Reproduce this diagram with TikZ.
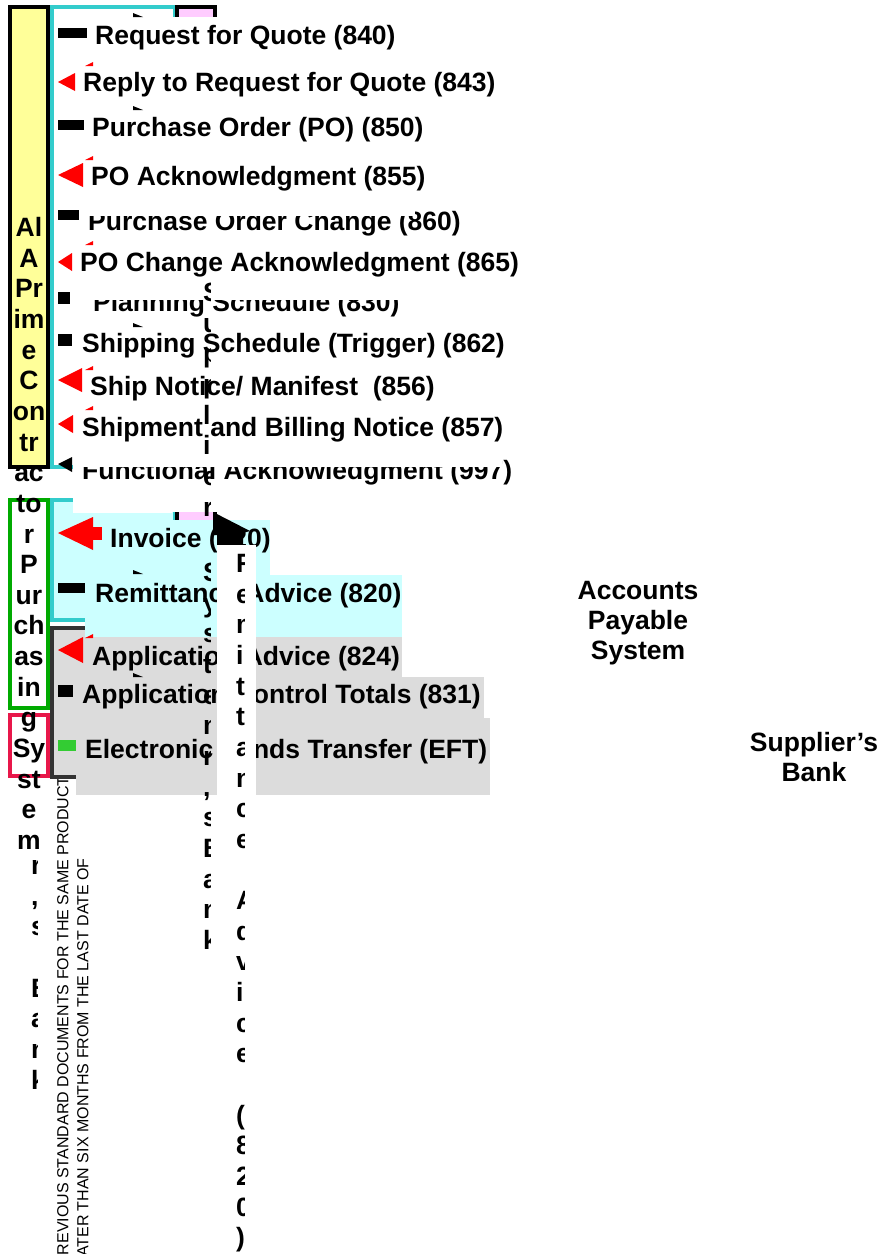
\documentclass[tikz,border=0pt]{standalone}
\usepackage{fontspec}
\setmainfont{Liberation Sans}
\usepackage{xcolor}
\usetikzlibrary{positioning}

\definecolor{boxyellow}{HTML}{FFFF99}
\definecolor{boxcyan}{HTML}{33CCCC}
\definecolor{lightcyan}{HTML}{CCFFFF}
\definecolor{boxpink}{HTML}{FFCCFF}
\definecolor{boxgreen}{HTML}{00AA00}
\definecolor{boxred}{HTML}{E8174A}
\definecolor{boxgray}{HTML}{DCDCDC}
\definecolor{darkframe}{HTML}{333333}
\definecolor{eftgreen}{HTML}{33CC33}

\tikzset{
  bigfont/.style={font=\bfseries\fontsize{26.5}{30}\selectfont},
  rowtext/.style={bigfont, anchor=base west, inner sep=0pt},
  colchar/.style={bigfont, anchor=base west, inner sep=0pt},
  midchar/.style={bigfont, anchor=base, inner sep=0pt},
  sidebox/.style={line width=4pt, fill=white},
  mask/.style={fill=white, draw=none}
}

\begin{document}
\begin{tikzpicture}[x=1pt,y=-1pt]
    \useasboundingbox (0,0) rectangle (880,1254);

    % Note along the bottom
    \node[rotate=90, anchor=north west, inner sep=0pt, align=left,
          font=\fontsize{16}{20}\selectfont] (note) at (57,1266)
        {PREVIOUS STANDARD DOCUMENTS FOR THE SAME PRODUCT\\LATER THAN SIX MONTHS FROM THE LAST DATE OF};

    % Side boxes
    \draw[sidebox, fill=boxyellow] (10,7) rectangle (48,467);
    \draw[sidebox, draw=boxgreen] (10,500) rectangle (48,708);
    \draw[sidebox, draw=boxred] (10,715) rectangle (48,776);

    % Frames behind the lists
    \draw[boxcyan, line width=4pt] (52,7) rectangle (175,467);
    \draw[darkframe, fill=boxgray, line width=4pt] (52,628) rectangle (160,777);
    \draw[boxcyan, fill=lightcyan, line width=4pt] (52,500) rectangle (175,620);
    \draw[fill=boxpink, line width=4pt] (176.5,7) rectangle (214.5,530);

    % White cover over the upper list
    \fill[mask] (55,17) rectangle (530,465);
    \fill[mask] (73,465) rectangle (172,513);
    \fill[mask] (62,469) rectangle (73,498);
    \fill[mask] (172,465) rectangle (530,512);

    % Row backgrounds
    \fill[lightcyan] (54,520) rectangle (270,575);
    \fill[lightcyan] (85,575) rectangle (402,637);
    \fill[boxgray] (83,637) rectangle (402,677);
    \fill[boxgray] (73,677) rectangle (484,718);
    \fill[boxgray] (76,718) rectangle (490,795);

    % Documents
    \node[rowtext] (rfq)   at (95,44)  {Request for Quote (840)};
    \node[rowtext] (rrfq)  at (83,91)  {Reply to Request for Quote (843)};
    \node[rowtext] (po)    at (92,136) {Purchase Order (PO) (850)};
    \node[rowtext] (poack) at (91,185) {PO Acknowledgment (855)};
    \node[rowtext] (poch)  at (88,230) {Purchase Order Change (860)};
    \node[rowtext] (pochack) at (80,271) {PO Change Acknowledgment (865)};
    \node[rowtext] (plan)  at (93,311) {Planning Schedule (830)};
    \node[rowtext] (ship)  at (82,352) {Shipping Schedule (Trigger) (862)};
    \node[rowtext] (asn)   at (90,395) {Ship Notice/ Manifest\ \ (856)};
    \node[rowtext] (bill)  at (82,436) {Shipment and Billing Notice (857)};
    \node[rowtext] (func)  at (82,479) {Functional Acknowledgment (997)};
    \node[rowtext] (inv)   at (110,547) {Invoice (820)};
    \node[rowtext] (remit) at (95,602) {Remittance Advice (820)};
    \node[rowtext] (appadv) at (92,665) {Application Advice (824)};
    \node[rowtext] (appctl) at (82,703) {Application Control Totals (831)};
    \node[rowtext] (eft)   at (85,758) {Electronic Funds Transfer (EFT)};

    % Half hidden rows
    \fill[mask] (85,195) rectangle (415,216);
    \fill[mask] (85,280) rectangle (420,300);
    \fill[mask] (80,445) rectangle (502,467);

    % Direction marks
    \fill (58,28) rectangle (87,38);
    \fill[red] (58,82) -- (75,73) -- (75,91) -- cycle;
    \fill (58,120) rectangle (84,130);
    \fill[red] (58,175) -- (83,163) -- (83,187) -- cycle;
    \fill (58,210) rectangle (79,220);
    \fill[red] (58,262) -- (72,253) -- (72,271) -- cycle;
    \fill (58,292) rectangle (70,304);
    \fill (58,334) rectangle (72,346);
    \fill[red] (58,380) -- (82,368) -- (82,392) -- cycle;
    \fill[red] (58,424) -- (73,415) -- (73,433) -- cycle;
    \fill (58,464) -- (72,457) -- (72,472) -- cycle;
    \fill[red] (58,533) -- (93,517) -- (93,550) -- cycle;
    \fill[red] (93,527) rectangle (102,540);
    \fill (58,583) rectangle (85,593);
    \fill[red] (58,650) -- (83,637) -- (83,663) -- cycle;
    \fill (58,685) rectangle (73,697);
    \fill[eftgreen] (58,740) rectangle (76,751);

    % Arrow tips peeking out
    \foreach \yy in {15,108,325,572,675}
        \fill (133,\yy-2) -- (143,\yy+2) -- (133,\yy+2) -- cycle;
    \foreach \yy in {63,157,242,367,407,635}
        \fill[red] (85,\yy+3) -- (93,\yy-1) -- (93,\yy+3) -- cycle;

    % Big arrow at the invoice
    \fill (213,512) -- (250,531) -- (243,533) -- (243,545) -- (217,545)
        -- (217,535) -- (213,535) -- cycle;

    % Narrow column
    \fill[white] (217,545) rectangle (256,1254);
    \begin{scope}
        \clip (225,540) rectangle (244,1254);
        \foreach \c [count=\k from 0] in {R,e,m,i,t,t,a,n,c,e,{},A,d,v,i,c,e,{},{(},8,2,0,{)}}
            \node[colchar] (remcol\k) at (236,{572.5+30.65*\k}) {\c};
    \end{scope}

    % Supplier column
    \begin{scope}
        \clip (195,270) rectangle (210,960);
        \foreach \c [count=\k from 0] in {S,u,p,p,l,i,e,r}
            \node[colchar] (supa\k) at (203,{301.5+30.65*\k}) {\c};
        \foreach \c [count=\k from 0] in {S,y,s,t,e,m,r,{,},s,B,a,n,k}
            \node[colchar] (supb\k) at (203,{581.5+30.65*\k}) {\c};
    \end{scope}

    % Purchasing system column
    \foreach \c [count=\k from 0] in {Al,A,Pr,im,e,C,on,tr,ac,to,r,P,ur,ch,as,in,g,Sy,st,e,m}
        \node[midchar] (pur\k) at (29,{236.5+30.65*\k}) {\c};
    \begin{scope}
        \clip (20,850) rectangle (37,1100);
        \foreach \c [count=\k from 0] in {r,{,},s,{},B,a,n,k}
            \node[colchar] (bank\k) at (31,{874.5+30.65*\k}) {\c};
    \end{scope}

    % Systems on the right
    \node[bigfont, align=center] (aps) at (638,623) {Accounts\\Payable\\System};
    \node[bigfont, align=center] (sbank) at (814,757) {Supplier’s\\Bank};
\end{tikzpicture}
\end{document}
